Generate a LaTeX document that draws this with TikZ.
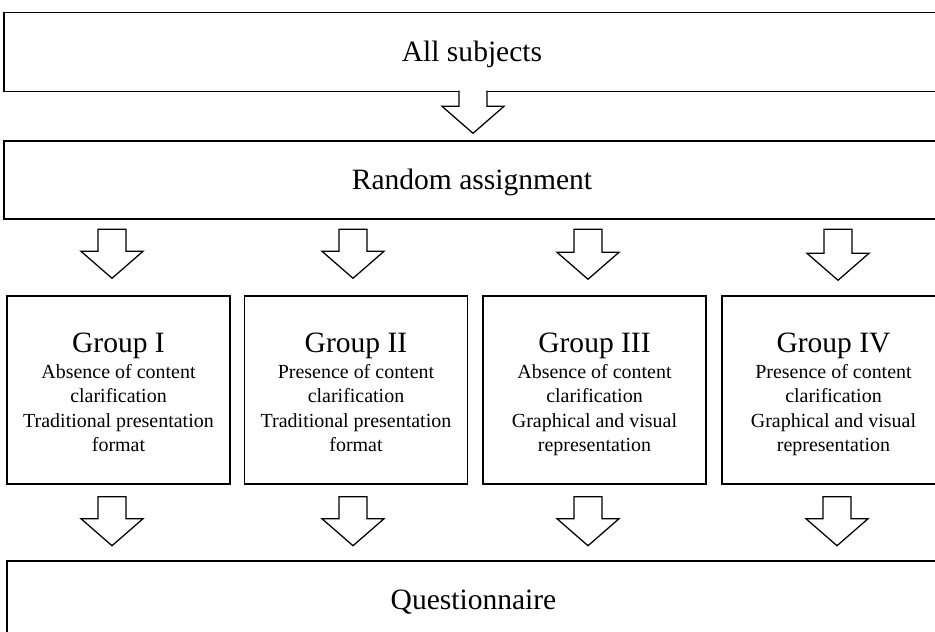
\documentclass[tikz,border=0pt]{standalone}
\usepackage{fontspec}
\setmainfont{Liberation Serif}
\usetikzlibrary{calc}
\newcommand{\gtitle}[1]{{\fontsize{21}{25}\selectfont\rule{0pt}{21.5pt}#1}\\[0.8pt]}

\begin{document}
\begin{tikzpicture}[x=0.025cm,y=-0.025cm]

		\tikzset{box/.style = {shape=rectangle,draw,line width=1pt,minimum width=23.4cm,minimum height=1.95cm,text height=14pt,text depth=0pt,font=\fontsize{21}{25}\selectfont}}
		\tikzset{group/.style = {shape=rectangle,draw,line width=1pt,minimum width=5.575cm,minimum height=4.7cm,align=center,font=\fontsize{14.2}{17.4}\selectfont,
				execute at end node={\rule[-4pt]{0pt}{4pt}}}}
		\tikzset{fat/.style = {draw,fill=white,line width=0.9pt,
				to path={($(\tikztostart)+(-14,0)$) -- ($(\tikztotarget)+(-14,-27)$) -- ($(\tikztotarget)+(-31,-27)$) -- (\tikztotarget) -- ($(\tikztotarget)+(31,-27)$) -- ($(\tikztotarget)+(14,-27)$) -- ($(\tikztostart)+(14,0)$) #1}},
			fat/.default={-- cycle}}
		\useasboundingbox (0,0) rectangle (935,632);
		\clip (0,0) rectangle (935,632);
		% boxes
		\node[box,minimum height=1.975cm] (all) at (472,52) {All subjects};
		\node[box] (rand) at (472,180) {Random assignment};
		\node[group] (I) at (118.5,390) {\gtitle{Group I}Absence of content\\clarification\\Traditional presentation\\format};
		\node[group] (II) at (356,390) {\gtitle{Group II}Presence of content\\clarification\\Traditional presentation\\format};
		\node[group] (III) at (594.5,390) {\gtitle{Group III}Absence of content\\clarification\\Graphical and visual\\representation};
		\node[group] (IV) at (833.5,390) {\gtitle{Group IV}Presence of content\\clarification\\Graphical and visual\\representation};
		\node[box,minimum width=23.325cm] (quest) at (473.5,600) {Questionnaire};
		% arrows
		\draw[fat={}] ($(all.south)+(1,-1.5)$) to ($(rand.north)+(1,-7)$); %open top
		\draw[fat] ($(I.north)+(-6.5,-66)$) to ($(I.north)+(-6.5,-17)$);
		\draw[fat] ($(II.north)+(-3,-66)$) to ($(II.north)+(-3,-17)$);
		\draw[fat] ($(III.north)+(-6.5,-66)$) to ($(III.north)+(-6.5,-16)$);
		\draw[fat] ($(IV.north)+(4.5,-66)$) to ($(IV.north)+(4.5,-15)$);
		\draw[fat] ($(I.south)+(-6.5,12)$) to ($(I.south)+(-6.5,61)$);
		\draw[fat] ($(II.south)+(-3,12)$) to ($(II.south)+(-3,61)$);
		\draw[fat] ($(III.south)+(-6.5,12)$) to ($(III.south)+(-6.5,61)$);
		\draw[fat] ($(IV.south)+(3.5,12)$) to ($(IV.south)+(3.5,61)$);
		\end{tikzpicture}
\end{document}
